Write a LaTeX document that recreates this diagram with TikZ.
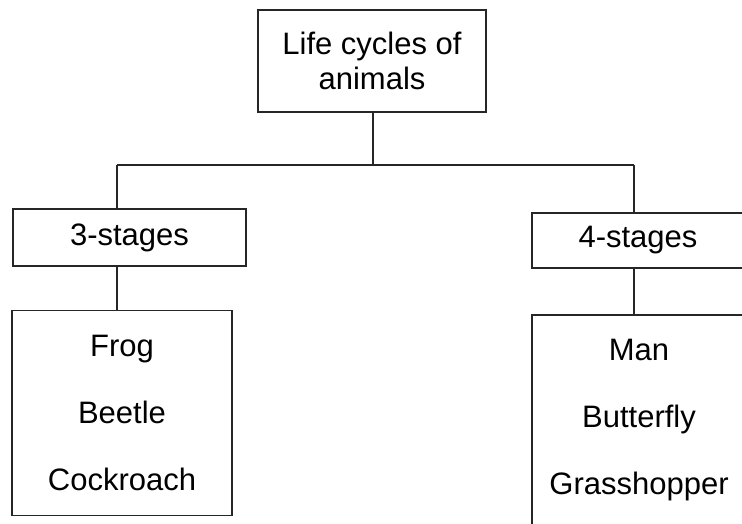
\documentclass[tikz,border=0pt]{standalone}
\usepackage{fontspec}
\setmainfont{Liberation Sans}
\usetikzlibrary{positioning}

\begin{document}
\begin{tikzpicture}[x=1pt, y=-1pt,
                box/.style={rectangle, draw=black!85, line width=1.6pt, inner sep=0pt, align=center, font=\fontsize{31}{35}\selectfont},
                listbox/.style={box, font=\fontsize{31}{67}\selectfont},
                link/.style={draw=black!85, line width=1.6pt}]

            % Frame of the picture
            \clip (0,0) rectangle (742,523);

            \node[box, minimum width=228pt, minimum height=102pt] (root) at (372,61) {Life cycles of\\animals};

            \node[box, minimum width=233pt, minimum height=57pt] (three) at (129.5,237.5) {3-stages};
            \node[box, minimum width=212pt, minimum height=55pt] (four) at (638,240.5) {4-stages};

            \node[listbox, minimum width=220pt, minimum height=205pt] (threelist) at (122,413) {Frog\\Beetle\\Cockroach};
            \node[listbox, minimum width=214pt, minimum height=210pt] (fourlist) at (639,420) {Man\\Butterfly\\Grasshopper};

            % Branch points
            \coordinate (split) at (373,165);
            \coordinate (lbranch) at (117,165);
            \coordinate (rbranch) at (634,165);

            \draw[link] (root.south -| split) -- (split);
            \draw[link] (lbranch) -- (rbranch);
            \draw[link] (lbranch) -- (lbranch |- three.north);
            \draw[link] (rbranch) -- (rbranch |- four.north);
            \draw[link] (three.south -| lbranch) -- (threelist.north -| lbranch);
            \draw[link] (four.south -| rbranch) -- (fourlist.north -| rbranch);

        \end{tikzpicture}
\end{document}
